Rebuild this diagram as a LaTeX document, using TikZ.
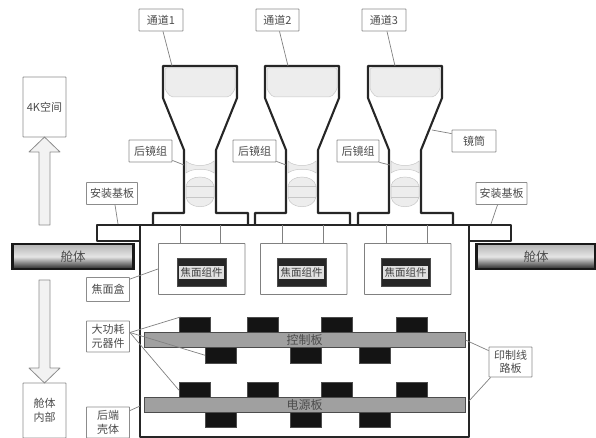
\documentclass[tikz,border=0pt]{standalone}
\usepackage{fontspec}
\setmainfont{Noto Sans CJK SC}
\usetikzlibrary{arrows.meta,calc,positioning}
\definecolor{LabelGray}{HTML}{8C8C8C}
\definecolor{PcbGray}{HTML}{A0A0A0}
\definecolor{LensGray}{HTML}{EDEDED}
\tikzset{
  tag/.style={draw=LabelGray, fill=white, rounded corners=0.5pt, align=center, inner sep=0pt, font=\fontsize{11}{13.5}\selectfont, text=black!70, line width=0.8pt},
  leader/.style={draw=black!50, line width=0.7pt},
  shell/.style={draw=black!85, line width=2.1pt, line join=round},
  hull/.style={draw=black!90, line width=2.2pt, inner sep=0pt, top color=black!30, bottom color=black!85, middle color=black!10, font=\fontsize{12.5}{14}\selectfont, text=black!70},
  chip/.style={draw=black!70, fill=black!92, line width=0.5pt, anchor=north west, inner sep=0pt},
  pcb/.style={draw=black!70, fill=PcbGray, line width=0.8pt, inner sep=0pt, minimum width=321pt, minimum height=15pt, font=\fontsize{12}{14}\selectfont, text=black!70},
  fbox/.style={draw=black!50, line width=0.9pt, rounded corners=0.5pt},
  fcase/.style={draw=black!70, fill=black!85, minimum width=49pt, minimum height=28pt, inner sep=0pt},
  fband/.style={fill=black!12, minimum width=45pt, minimum height=13pt, inner sep=0pt, font=\fontsize{10.5}{11}\selectfont, text=black!75},
  lens/.style={draw=black!22, fill=LensGray, line width=0.5pt},
  bigarrow/.style={draw=LabelGray, fill=black!5, line width=0.8pt, line join=round}
}
\begin{document}
\begin{tikzpicture}[x=1pt,y=-1pt]
  \useasboundingbox (0,0) rectangle (596,438);
  % channels
  \foreach \i/\dx in {1/0,2/102,3/205} {
    \begin{scope}[xshift=\dx pt]
      \draw[lens, rounded corners=2pt] (165,68) -- (235,68) -- (235,90) -- (229,97) -- (171,97) -- (165,90) -- cycle;
      \draw[lens] (186,161) .. controls (192,167) and (208,167) .. (214,161) -- (214,173) .. controls (208,168) and (192,168) .. (186,173) -- cycle;
      \draw[lens] (186,186) .. controls (188,174) and (212,174) .. (214,186) -- (214,197) .. controls (212,210) and (188,210) .. (186,197) -- cycle;
      \draw[black!22, line width=0.5pt] (186,186) -- (214,186) (186,197) -- (214,197);
      \draw[shell] (153,224) -- (153,213) -- (184,213) -- (184,150) -- (163,98) -- (163,66) -- (237,66) -- (237,98) -- (216,150) -- (216,213) -- (248,213) -- (248,224);
    \end{scope}
  }
  \coordinate (top1) at (172,66);
  \coordinate (top2) at (288,66);
  \coordinate (top3) at (395,66);
  \coordinate (neck1) at (184,165);
  \coordinate (neck2) at (286,165);
  \coordinate (neck3) at (390,165);
  \coordinate (taper) at (432,130);
  % body
  \draw[shell] (140,225) rectangle (469,437);
  \draw[shell] (140,225) -- (97,225) -- (97,241) -- (140,241);
  \draw[shell] (469,225) -- (511,225) -- (511,241) -- (469,241);
  \coordinate (plateL) at (118,224);
  \coordinate (plateR) at (491,224);
  \coordinate (wallL) at (140,406);
  \coordinate (wallR) at (469,401);
  \node[hull, minimum width=121pt, minimum height=25pt] (hullL) at (73,256.5) {舱体};
  \node[hull, minimum width=119pt, minimum height=25pt] (hullR) at (536,256.5) {舱体};
  % focal boxes
  \foreach \i/\bx/\cx/\sa/\sb in {1/158/201.5/180/220,2/260/301.5/282/323,3/364/405.5/386/427} {
    \node[fbox, anchor=north west, minimum width=86.5pt, minimum height=51pt, inner sep=0pt] (fb\i) at (\bx,243) {};
    \draw[black!50, line width=1pt] (\sa,225) -- (\sa,243) (\sb,225) -- (\sb,243);
    \node[fcase] (case\i) at (\cx,272) {};
    \node[fband] (focal\i) at (case\i) {焦面组件};
  }
  % chips and boards
  \foreach \x in {179,247,321,396} {
    \node[chip, minimum width=31pt, minimum height=16pt] (ca\x) at (\x,317) {};
    \node[chip, minimum width=31pt, minimum height=16pt] (cc\x) at (\x,382) {};
  }
  \foreach \x in {205,290,359} {
    \node[chip, minimum width=31pt, minimum height=16pt] (cb\x) at (\x,347) {};
    \node[chip, minimum width=31pt, minimum height=15pt] (cd\x) at (\x,412) {};
  }
  \node[pcb] (ctrl) at (304.5,340) {控制板};
  \node[pcb] (power) at (304.5,404.5) {电源板};
  % labels
  \node[tag, minimum width=44pt, minimum height=22pt] (ch1) at (161,20) {通道1};
  \node[tag, minimum width=43pt, minimum height=22pt] (ch2) at (277.5,20) {通道2};
  \node[tag, minimum width=44pt, minimum height=22pt] (ch3) at (384,20) {通道3};
  \node[tag, minimum width=43pt, minimum height=22pt] (rear1) at (150.5,151) {后镜组};
  \node[tag, minimum width=43pt, minimum height=22pt] (rear2) at (254.5,151) {后镜组};
  \node[tag, minimum width=42pt, minimum height=22pt] (rear3) at (358,151) {后镜组};
  \node[tag, minimum width=44pt, minimum height=22pt] (tube) at (474,141) {镜筒};
  \node[tag, minimum width=51pt, minimum height=22pt] (baseL) at (112,193.5) {安装基板};
  \node[tag, minimum width=51pt, minimum height=22pt] (baseR) at (501.5,193.5) {安装基板};
  \node[tag, minimum width=43pt, minimum height=60pt] (space) at (44.5,107) {4K空间};
  \node[tag, minimum width=43pt, minimum height=55pt] (inside) at (44.5,410.5) {舱体\\内部};
  \node[tag, minimum width=43pt, minimum height=24pt] (fbx) at (108,289.5) {焦面盒};
  \node[tag, minimum width=43pt, minimum height=31pt] (hot) at (108,336.5) {大功耗\\元器件};
  \node[tag, minimum width=43pt, minimum height=31pt] (rearshell) at (108,422.5) {后端\\壳体};
  \node[tag, minimum width=43pt, minimum height=30pt] (board) at (510.5,362) {印制线\\路板};
  % leaders
  \draw[leader] (ch1.south) ++(2,0) -- (top1);
  \draw[leader] (ch2.south) ++(2,0) -- (top2);
  \draw[leader] (ch3.south) ++(3,0) -- (top3);
  \draw[leader] (rear1.south east) ++(0,-2) -- (neck1);
  \draw[leader] (rear2.south east) ++(0,-1) -- (neck2);
  \draw[leader] (rear3.south east) -- (neck3);
  \draw[leader] (tube.north west) ++(0,4) -- (taper);
  \draw[leader] (baseL.south) ++(3,0) -- (plateL);
  \draw[leader] (baseR.south) ++(-4,0) -- (plateR);
  \draw[leader] (fbx.north east) ++(0,2) -- (fb1.west);
  \draw[leader] (hot.east) ++(0,-4) -- (ca179.150);
  \draw[leader] (hot.east) ++(0,-4) -- (cb205.180);
  \draw[leader] (hot.east) ++(0,-4) -- (cc179.180);
  \draw[leader] (rearshell.north east) ++(0,4) -- (wallL);
  \draw[leader] (board.north west) ++(0,4) -- (ctrl.east);
  \draw[leader] (board.south west) ++(2,0) -- (wallR);
  % cabin arrows
  \draw[bigarrow] (39,225) -- (39,152) -- (29,152) -- (44.5,137) -- (60,152) -- (50,152) -- (50,225) -- cycle;
  \draw[bigarrow] (39,280) -- (50,280) -- (50,368) -- (60,368) -- (44.5,383) -- (29,368) -- (39,368) -- cycle;
\end{tikzpicture}
\end{document}
